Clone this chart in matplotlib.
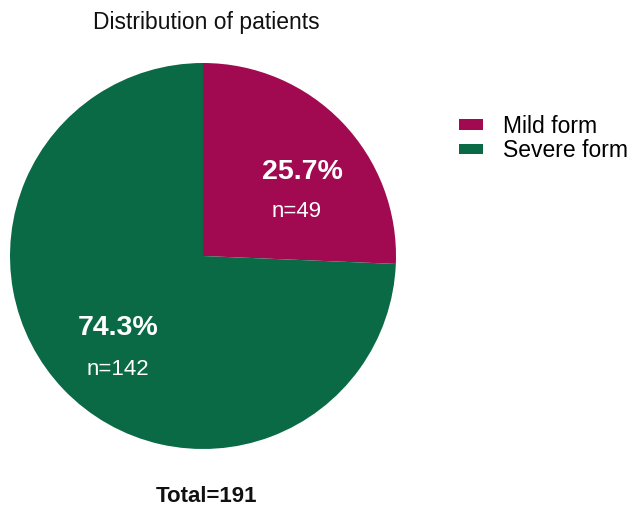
import matplotlib
matplotlib.use("Agg")
import matplotlib.pyplot as plt
from matplotlib.patches import Patch

plt.rcParams['font.family'] = ['Liberation Sans', 'DejaVu Sans']

categories = ["Mild form", "Severe form"]
counts = [49, 142]
percents = ["25.7%", "74.3%"]
colors = ["#A10A50", "#0A6A45"]
title = "Distribution of patients"
total_label = "Total=191"

W, H = 630, 516
fig = plt.figure(figsize=(W / 100, H / 100), dpi=100)

cx, cy, r = 203, 256, 193
ax = fig.add_axes([(cx - r) / W, (H - cy - r) / H, 2 * r / W, 2 * r / H])
wedges, _ = ax.pie(counts, colors=colors, startangle=90, counterclock=False,
                   radius=1.0, wedgeprops=dict(linewidth=0))
ax.set_xlim(-1, 1)
ax.set_ylim(-1, 1)
ax.set_aspect('equal')
ax.axis('off')

# label placement inside each wedge (axes data units)
lx_p = [0.513, -0.44]
ly_p = [0.435, -0.373]
lx_n = [0.487, -0.44]
ly_n = [0.228, -0.59]
for i in range(len(counts)):
    ax.text(lx_p[i], ly_p[i], percents[i], ha='center', va='center', color='white',
            fontsize=20.5, fontweight='bold')
    ax.text(lx_n[i], ly_n[i], f"n={counts[i]}", ha='center', va='center', color='white',
            fontsize=16)

fig.text(206 / W, 1 - 22 / H, title, ha='center', va='center', fontsize=16.5, color='#111111')
fig.text(206 / W, 1 - 497 / H, total_label, ha='center', va='center', fontsize=16,
         fontweight='bold', color='#111111')

handles = [Patch(facecolor=c, edgecolor='none') for c in colors]
fig.legend(handles, categories, loc='upper left', bbox_to_anchor=(459 / W, 1 - 115 / H),
           frameon=False, fontsize=16.5, handlelength=1.05, handleheight=0.35,
           handletextpad=0.85, labelspacing=0.05, borderpad=0, borderaxespad=0)

fig.savefig("out.png", dpi=100)
